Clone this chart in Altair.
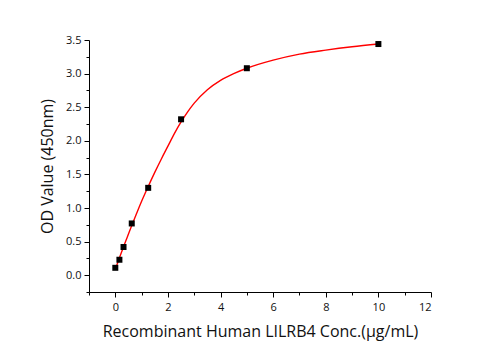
import altair as alt
import pandas as pd

# measured points
conc = [0, 0.156, 0.3125, 0.625, 1.25, 2.5, 5, 10]
od = [0.11, 0.23, 0.42, 0.77, 1.30, 2.32, 3.08, 3.44]

# fitted curve
curve_x = [0, 0.15, 0.3, 0.45, 0.625, 0.8, 1.0, 1.25, 1.5, 1.75, 2.0, 2.25, 2.5,
           2.75, 3.0, 3.5, 4.0, 4.5, 5.0, 6.0, 7.0, 8.0, 9.0, 10.0]
curve_y = [0.09, 0.25, 0.41, 0.56, 0.74, 0.91, 1.10, 1.32, 1.53, 1.73, 1.92, 2.11, 2.28,
           2.43, 2.56, 2.76, 2.90, 3.00, 3.08, 3.20, 3.29, 3.35, 3.40, 3.44]

x_major = [0, 2, 4, 6, 8, 10, 12]
x_minor = [-1, 1, 3, 5, 7, 9, 11]
y_major = [0.0, 0.5, 1.0, 1.5, 2.0, 2.5, 3.0, 3.5]
y_minor = [-0.25, 0.25, 0.75, 1.25, 1.75, 2.25, 2.75, 3.25]

pts = pd.DataFrame({"x": conc, "y": od})
crv = pd.DataFrame({"x": curve_x, "y": curve_y})

FONT = "Open Sans"
xscale = alt.Scale(domain=[-1, 12], nice=False, zero=False)
yscale = alt.Scale(domain=[-0.25, 3.5], nice=False, zero=False)

common_axis = dict(domainColor="black", tickColor="black", grid=False,
                   labelFont=FONT, labelFontSize=11, labelColor="#111",
                   titleFont=FONT, titleColor="#111", titleFontWeight="normal")

line = alt.Chart(crv).mark_line(color="#ff0000", strokeWidth=1.4,
                                interpolate="monotone").encode(
    x=alt.X("x:Q", scale=xscale,
            axis=alt.Axis(orient="bottom", values=x_major, format="d", tickSize=5,
                          title="Recombinant Human LILRB4 Conc.(μg/mL)",
                          titleFontSize=16, titlePadding=11, labelPadding=4,
                          **common_axis)),
    y=alt.Y("y:Q", scale=yscale,
            axis=alt.Axis(orient="left", values=y_major, format=".1f", tickSize=5,
                          title="OD Value (450nm)", titleFontSize=16,
                          titlePadding=10, labelPadding=3, **common_axis)),
)

points = alt.Chart(pts).mark_square(color="black", size=36, opacity=1).encode(
    x=alt.X("x:Q", scale=xscale,
            axis=alt.Axis(orient="bottom", values=x_minor, labels=False, tickSize=3,
                          domain=False, title=None, tickColor="black", grid=False)),
    y=alt.Y("y:Q", scale=yscale,
            axis=alt.Axis(orient="left", values=y_minor, labels=False, tickSize=3,
                          domain=False, title=None, tickColor="black", grid=False)),
)

chart = alt.layer(line, points).resolve_axis(
    x="independent", y="independent"
).properties(
    width=342, height=252,
    autosize=alt.AutoSizeParams(type="none"),
    padding={"left": 89, "top": 40, "right": 70, "bottom": 58},
    background="white",
).configure_view(stroke=None)

chart.save("out.html", embed_options={"renderer": "svg", "actions": False})
